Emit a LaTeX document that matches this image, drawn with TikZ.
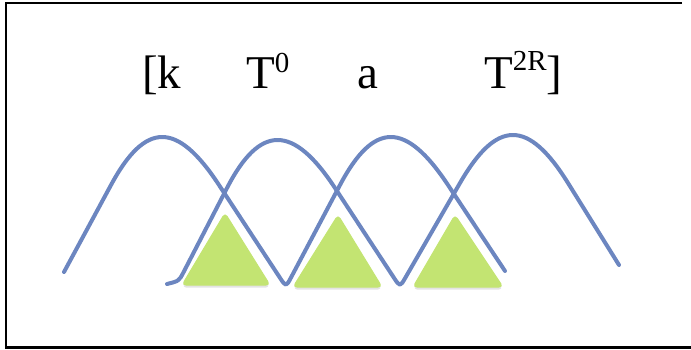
\documentclass[tikz,border=0pt]{standalone}
\usepackage{fontspec}
\setmainfont{Liberation Serif}
\usetikzlibrary{shadows,calc}
\definecolor{wave}{RGB}{108,134,192}
\definecolor{lgreen}{RGB}{195,228,114}
\tikzset{
  lbl/.style={anchor=base west, inner sep=0pt, font=\fontsize{47}{47}\selectfont},
  wavestyle/.style={draw=wave, line width=4pt, line cap=round, line join=round},
  tri/.style={fill=lgreen, draw=lgreen, line width=1pt, rounded corners=4pt,
    drop shadow={shadow xshift=0pt, shadow yshift=-2.5pt, opacity=0.18, fill=black!60}},
  frame/.style={draw=black, line width=2.2pt}
}
\newcommand{\sups}[2][16pt]{\raisebox{#1}{\fontsize{29}{29}\selectfont #2}}
\begin{document}
\begin{tikzpicture}[x=1pt,y=-1pt]
\useasboundingbox (0,0) rectangle (691,349);
% frame
\coordinate (fbl) at (6,347.5);
\coordinate (ftl) at (6,3);
\coordinate (ftr) at (682,3);
\coordinate (fbr) at (691,347.5);
\draw[frame] (ftr) -- (ftl) -- (fbl) -- (fbr);
% labels
\node[lbl] (t1) at (142,88) {[k};
\node[lbl] (t2) at (246,88) {T\sups{0}};
\node[lbl] (t3) at (357,88) {a};
\node[lbl] (t4) at (484,88) {T\sups[18pt]{2R}]};
% triangles
\path[tri] (182,285) -- (225,213) -- (270,285) -- cycle;
\path[tri] (293,287) -- (338,215) -- (382,287) -- cycle;
\path[tri] (413,287) -- (455,215) -- (503,287) -- cycle;
% wave 1
\coordinate (a0) at (64,272);
\coordinate (a1s) at (111,185);
\coordinate (a1e) at (219,185);
\coordinate (a2) at (286,287);
\coordinate (a3s) at (340,185);
\coordinate (a3e) at (448,185);
\coordinate (a4) at (505,271);
\draw[wavestyle] (a0) -- (a1s) .. controls (145.5,121) and (177,121) .. (a1e)
  -- ($(a2)!11pt!(a1e)$) .. controls (a2) .. ($(a2)!11pt!(a3s)$)
  -- (a3s) .. controls (373.9,121) and (405.6,121) .. (a3e) -- (a4);
% wave 2
\coordinate (b0) at (167,284);
\coordinate (b0h) at (179,281);
\coordinate (b1s) at (227,188);
\coordinate (b1e) at (335,188);
\coordinate (b2) at (400,287);
\coordinate (b3s) at (460,183);
\coordinate (b3e) at (568,183);
\coordinate (b4) at (619,265);
\draw[wavestyle] (b0) .. controls (b0h) .. ($(b0h)!10pt!(b1s)$) -- (b1s)
  .. controls (260,124) and (293,124) .. (b1e)
  -- ($(b2)!11pt!(b1e)$) .. controls (b2) .. ($(b2)!11pt!(b3s)$)
  -- (b3s) .. controls (496.9,119) and (528.2,119) .. (b3e) -- (b4);
\end{tikzpicture}
\end{document}
